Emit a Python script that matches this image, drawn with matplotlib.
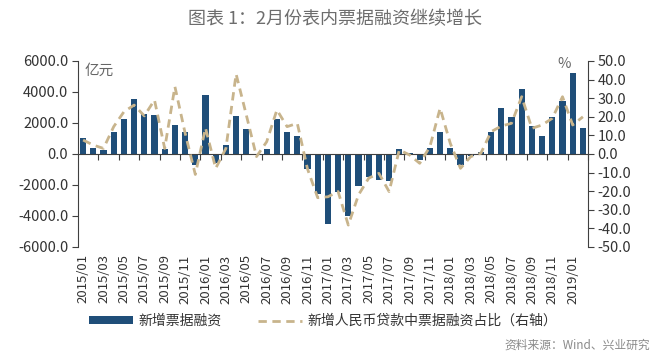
# 图表 1：2月份表内票据融资继续增长
import numpy as np
import matplotlib.pyplot as plt
from matplotlib.transforms import blended_transform_factory
from matplotlib.patches import Patch
from matplotlib.lines import Line2D

plt.rcParams['font.family'] = ['Noto Sans CJK SC', 'DejaVu Sans']

# -------------------------
# 数据（亿元 / %）
# -------------------------
months = [f"{y}/{m:02d}" for y in range(2015, 2020) for m in range(1, 13)][:50]

bills = [1000, 400, 250, 1400, 2250, 3550, 2550, 2500, 320, 1850, 1450, -700,
         3800, -600, 580, 2430, 1610, -50, 320, 2250, 1440, 1160, -1000, -2600,
         -4540, -2430, -4000, -2040, -1460, -1680, -1720, 300, 50, -400, 360, 1440,
         360, -700, -150, 100, 1440, 2990, 2400, 4190, 1800, 1160, 2400, 3420,
         5210, 1700]

share = [7.5, 4.8, 3.0, 14.7, 22.7, 26.3, 20.5, 29.0, 3.0, 36.2, 11.3, -11.0,
         14.0, -7.7, 3.0, 43.0, 21.0, -1.4, 6.6, 23.7, 14.7, 16.5, -8.0, -23.5,
         -23.0, -20.2, -38.2, -22.0, -13.0, -10.4, -20.2, 2.2, -0.5, -5.0, 3.9, 24.6,
         5.7, -7.7, -1.4, 0.4, 12.0, 15.0, 16.5, 30.8, 13.8, 15.6, 19.2, 30.8,
         15.6, 20.0]

bar_color = '#1f4e79'
line_color = '#c8b48c'
text_color = '#333333'

fig = plt.figure(figsize=(6.54, 3.56), dpi=100)
ax = fig.add_axes([78 / 654, 1 - 247 / 356, 510 / 654, 186 / 356])
x = np.arange(len(months))

ax.bar(x, bills, width=0.6, color=bar_color, zorder=2)
ax.set_xlim(-0.5, len(months) - 0.5)
ax.set_ylim(-6000, 6000)
left_ticks = np.arange(-6000, 6001, 2000)
ax.set_yticks(left_ticks)
ax.set_yticklabels([f'{v:.1f}' for v in left_ticks], fontsize=10.5, color=text_color)
ax.tick_params(axis='y', direction='out', length=4, color='#404040', pad=3)

# 横轴放在 0 处，刻度在类别之间
for s in ['top', 'right']:
    ax.spines[s].set_visible(False)
ax.spines['bottom'].set_position(('data', 0))
ax.spines['bottom'].set_color('#404040')
ax.spines['left'].set_color('#404040')
ax.set_xticks(np.arange(1.5, len(months), 2))
ax.set_xticklabels([])
ax.tick_params(axis='x', direction='out', length=4, color='#404040')

trans = blended_transform_factory(ax.transData, ax.transAxes)
for i in range(0, len(months), 2):
    ax.text(i, -0.04, months[i], transform=trans, rotation=90,
            ha='center', va='top', fontsize=9.5, color=text_color)

# 右轴：占比
ax2 = ax.twinx()
ax2.plot(x, share, color=line_color, lw=2, ls=(0, (3, 2)), zorder=3)
ax2.set_ylim(-50, 50)
right_ticks = np.arange(-50, 51, 10)
ax2.set_yticks(right_ticks)
ax2.set_yticklabels([f'{v:.1f}' for v in right_ticks], fontsize=10.5, color=text_color)
ax2.tick_params(axis='y', direction='out', length=4, color='#404040', pad=3)
for s in ['top', 'left', 'bottom']:
    ax2.spines[s].set_visible(False)
ax2.spines['right'].set_color('#404040')

ax.text(0.012, 0.985, '亿元', transform=ax.transAxes, ha='left', va='top',
        fontsize=10.5, color='#666666')
fig.text(564 / 654, 1 - 64 / 356, '%', ha='center', va='center',
         fontsize=10.5, color='#666666')

fig.text(335 / 654, 1 - 19 / 356, '图表 1：2月份表内票据融资继续增长',
         ha='center', va='center', fontsize=13, color='#6d6d6d')

handles = [Patch(facecolor=bar_color), Line2D([], [], color=line_color, lw=2, ls=(0, (3, 2)))]
labels = ['新增票据融资', '新增人民币贷款中票据融资占比（右轴）']
fig.legend(handles, labels, loc='center left', bbox_to_anchor=(76 / 654, 1 - 321 / 356),
           ncol=2, frameon=False, fontsize=10, handlelength=3.2, handleheight=0.5,
           handletextpad=0.4, columnspacing=2.6, labelcolor=text_color)

fig.text(650 / 654, 1 - 345 / 356, '资料来源：Wind、兴业研究', ha='right', va='center',
         fontsize=8.5, color='#8a8a8a')

fig.savefig('out.png', dpi=100)
